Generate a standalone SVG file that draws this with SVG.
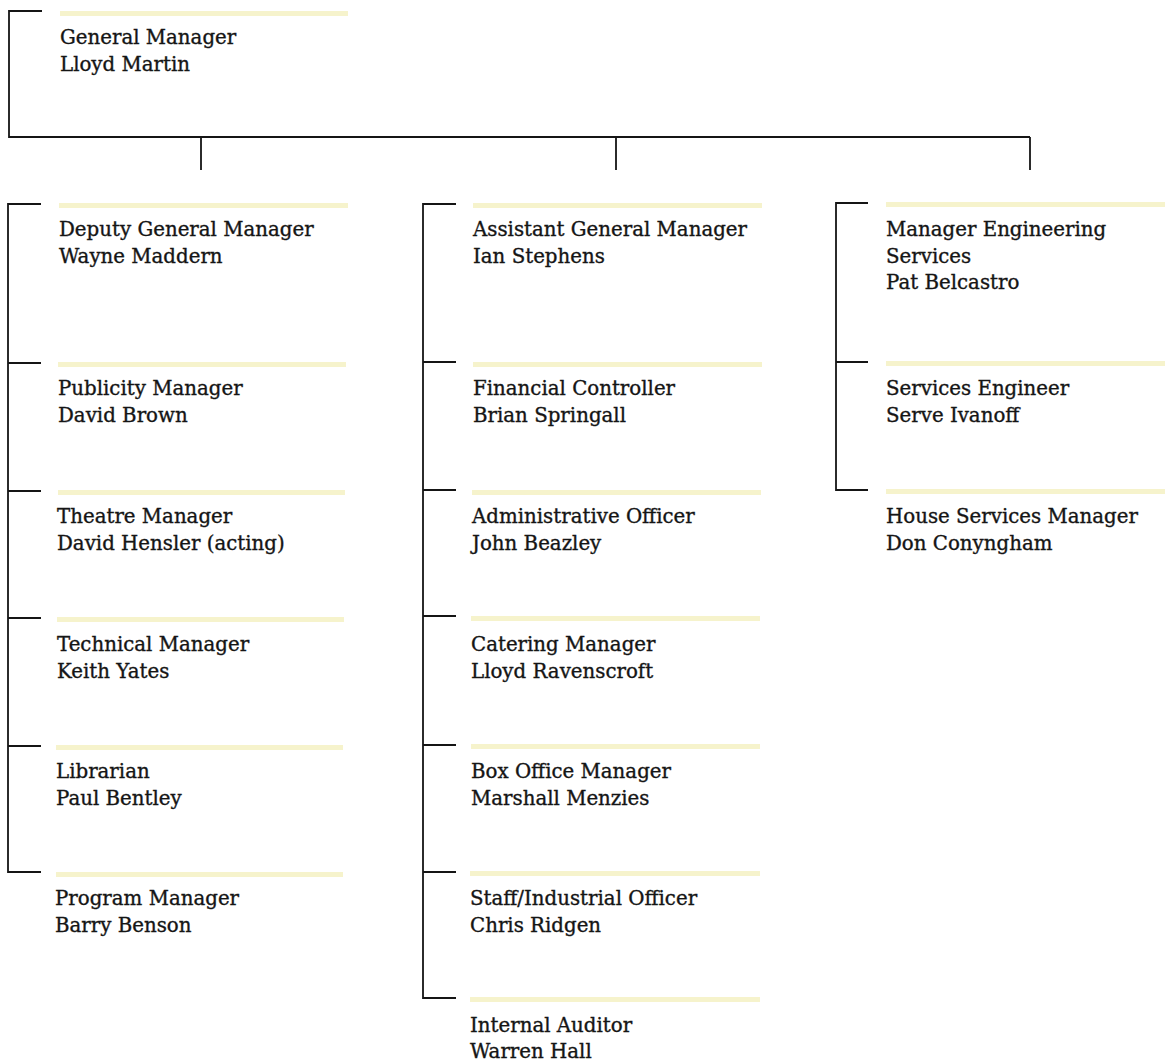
<svg xmlns="http://www.w3.org/2000/svg" width="1165" height="1064" viewBox="0 0 1165 1064">
<style>
.t{font-family:"DejaVu Serif","Liberation Serif",serif;font-size:19.8px;fill:#151515;stroke:#151515;stroke-width:0.35}
.ln{stroke:#151515;stroke-width:1.8;fill:none}
.bar{fill:#f6f3cc}
</style>
<rect width="1165" height="1064" fill="#fff"/>
<g id="connectors">
<path class="ln" d="M42 11H9V137H1030M201 137V170M616 137V170M1030 137V170"/>
<path class="ln" d="M41 204H8V872H41M8 363H41M8 491H41M8 618H41M8 746H41"/>
<path class="ln" d="M456 204H423V998H456M423 362H456M423 490H456M423 616H456M423 745H456M423 872H456"/>
<path class="ln" d="M868 203H836V490H868M836 362H868"/>
</g>
<g id="n-gm"><rect class="bar" x="60" y="11" width="288" height="5"/><text class="t" x="60" y="44">General Manager</text><text class="t" x="60" y="71">Lloyd Martin</text></g>
<g id="n-dgm"><rect class="bar" x="59" y="203" width="289" height="5"/><text class="t" x="59" y="236">Deputy General Manager</text><text class="t" x="59" y="263">Wayne Maddern</text></g>
<g id="n-pub"><rect class="bar" x="58" y="362" width="288" height="5"/><text class="t" x="58" y="395">Publicity Manager</text><text class="t" x="58" y="422">David Brown</text></g>
<g id="n-thm"><rect class="bar" x="58" y="490" width="287" height="5"/><text class="t" x="57" y="523">Theatre Manager</text><text class="t" x="57" y="550">David Hensler (acting)</text></g>
<g id="n-tech"><rect class="bar" x="57" y="617" width="287" height="5"/><text class="t" x="57" y="651">Technical Manager</text><text class="t" x="57" y="678">Keith Yates</text></g>
<g id="n-lib"><rect class="bar" x="56" y="745" width="287" height="5"/><text class="t" x="56" y="778">Librarian</text><text class="t" x="56" y="805">Paul Bentley</text></g>
<g id="n-prog"><rect class="bar" x="56" y="872" width="287" height="5"/><text class="t" x="55" y="905">Program Manager</text><text class="t" x="55" y="932">Barry Benson</text></g>
<g id="n-agm"><rect class="bar" x="473" y="203" width="289" height="5"/><text class="t" x="473" y="236">Assistant General Manager</text><text class="t" x="473" y="263">Ian Stephens</text></g>
<g id="n-fin"><rect class="bar" x="473" y="362" width="289" height="5"/><text class="t" x="473" y="395">Financial Controller</text><text class="t" x="473" y="422">Brian Springall</text></g>
<g id="n-adm"><rect class="bar" x="472" y="490" width="289" height="5"/><text class="t" x="472" y="523">Administrative Officer</text><text class="t" x="472" y="550">John Beazley</text></g>
<g id="n-cat"><rect class="bar" x="471" y="616" width="289" height="5"/><text class="t" x="471" y="651">Catering Manager</text><text class="t" x="471" y="678">Lloyd Ravenscroft</text></g>
<g id="n-box"><rect class="bar" x="471" y="744" width="289" height="5"/><text class="t" x="471" y="778">Box Office Manager</text><text class="t" x="471" y="805">Marshall Menzies</text></g>
<g id="n-staff"><rect class="bar" x="470" y="871" width="290" height="5"/><text class="t" x="470" y="905">Staff/Industrial Officer</text><text class="t" x="470" y="932">Chris Ridgen</text></g>
<g id="n-aud"><rect class="bar" x="470" y="997" width="290" height="5"/><text class="t" x="470" y="1032">Internal Auditor</text><text class="t" x="470" y="1058">Warren Hall</text></g>
<g id="n-mes"><rect class="bar" x="886" y="202" width="279" height="5"/><text class="t" x="886" y="236">Manager Engineering</text><text class="t" x="886" y="263">Services</text><text class="t" x="886" y="289">Pat Belcastro</text></g>
<g id="n-se"><rect class="bar" x="886" y="361" width="279" height="5"/><text class="t" x="886" y="395">Services Engineer</text><text class="t" x="886" y="422">Serve Ivanoff</text></g>
<g id="n-hsm"><rect class="bar" x="886" y="489" width="279" height="5"/><text class="t" x="886" y="523">House Services Manager</text><text class="t" x="886" y="550">Don Conyngham</text></g>
</svg>
